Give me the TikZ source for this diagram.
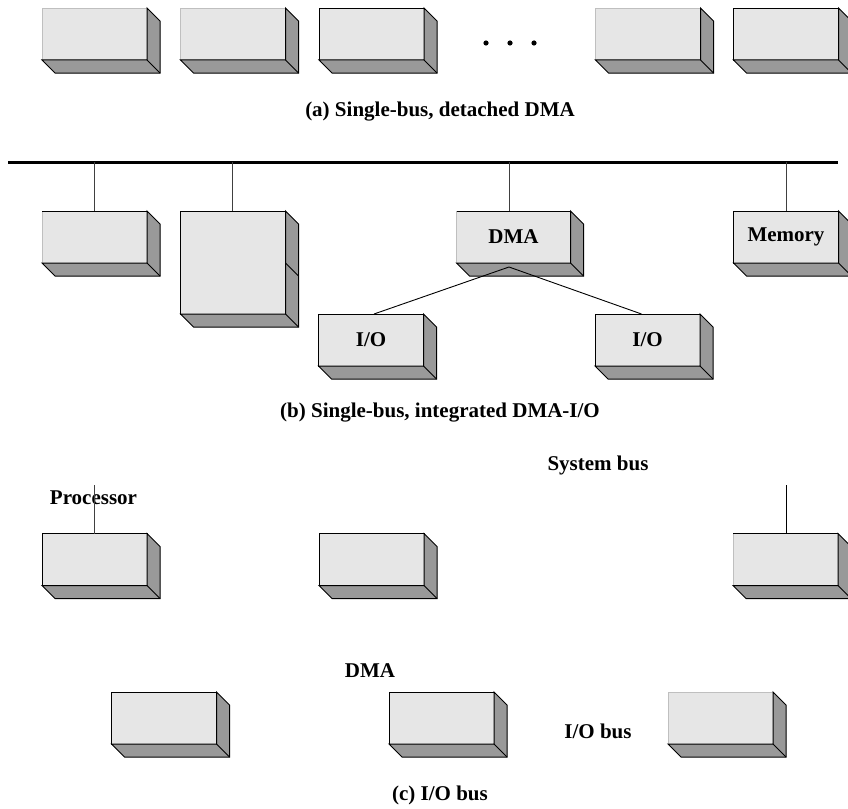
\documentclass[tikz,border=0pt]{standalone}
\usepackage{fontspec}
\setmainfont{Liberation Serif}
\usetikzlibrary{calc}
\definecolor{facegray}{HTML}{E6E6E6}
\definecolor{sidegray}{HTML}{999999}
\definecolor{wiregray}{HTML}{404040}
\newcommand\lbl{\bfseries\fontsize{21}{25}\selectfont}
\newcommand\cubesides[1]{%
  \filldraw[fill=sidegray, draw=black, line width=1pt, line join=miter]
    (#1.north east) -- ++(13,13) -- ($(#1.south east)+(13,13)$)
    -- ($(#1.south west)+(13,13)$) -- (#1.south west) -- (#1.south east) -- cycle;
  \draw[line width=1pt] (#1.south east) -- ++(13,13);
}
\tikzset{
  face/.style={rectangle, fill=facegray, minimum width=105pt, minimum height=52pt,
    inner sep=0pt, outer sep=0pt, font=\lbl},
  faceblack/.style={face, draw=black, line width=0.9pt},
  facesoft/.style={face, draw=black!25, line width=0.5pt},
  topedge/.style={line width=0.9pt, draw=black},
  wire/.style={line width=1pt, draw=wiregray},
  thinwire/.style={line width=0.9pt, draw=black},
  bus/.style={line width=3pt, draw=black},
  caption/.style={font=\lbl, inner sep=0pt},
}
\begin{document}
\begin{tikzpicture}[x=1pt, y=-1pt]
\clip (0,0) rectangle (848,808);
\fill[white] (0,0) rectangle (848,808);

% ---------- (a) ----------
\node[facesoft]  (a1) at (94.5,34) {};
\node[facesoft]  (a2) at (233,34) {};
\node[faceblack] (a3) at (371.5,34) {};
\node[facesoft]  (a4) at (648,34) {};
\node[faceblack] (a5) at (786,34) {};
\foreach \n in {a1,a2,a3,a4,a5} {\cubesides{\n}}
\foreach \x/\n in {486/d1,510/d2,534/d3} {\fill (\x,43) circle (2.6pt);}
\node[caption] (capa) at (440,112) {(a) Single-bus, detached DMA};

% ---------- (b) ----------
\coordinate (busL) at (8,162);
\coordinate (busR) at (838,162);
\draw[bus] (busL) -- (busR);
\node[facesoft]  (b1) at (94.5,237) {};
\node[faceblack, minimum height=103pt] (b2) at (233,262.5) {};
\node[facesoft, minimum width=114pt] (dma) at (513.5,237) {DMA};
\node[faceblack] (mem) at (786,237) {Memory};
\node[faceblack] (iol) at (371,340) {I/O};
\node[faceblack] (ior) at (647.5,340) {I/O};
\foreach \n in {b1,b2,dma,mem,iol,ior} {\cubesides{\n}}
\draw[line width=1pt] ($(b2.north east)+(0,52)$) -- ++(13,13);
\draw[topedge] (b1.north west) -- (b1.north east);
\draw[topedge] (dma.north west) -- (dma.north east);
\draw[wire] (b1.north -| 94,0) -- (94,162);
\draw[wire] (b2.north -| 232,0) -- (232,162);
\draw[wire] (dma.north -| 509,0) -- (509,162);
\draw[wire] (mem.north) -- (786,162);
\coordinate (apex) at (509,267);
\draw[thinwire] ($(iol.north)+(3,0)$) -- (apex) -- ($(ior.north)+(-6,0)$);
\node[caption] (capb) at (440,413) {(b) Single-bus, integrated DMA-I/O};

% ---------- (c) ----------
\node[caption] (sysbus) at (598,465) {System bus};
\node[caption] (proc) at (93.5,498) {Processor};
\node[faceblack] (c1) at (94.5,559.5) {};
\node[faceblack] (c2) at (371.5,559.5) {};
\node[facesoft]  (c3) at (785.5,559.5) {};
\foreach \n in {c1,c2,c3} {\cubesides{\n}}
\draw[topedge] (c3.north west) -- (c3.north east);
\coordinate (pt1) at (94,485);
\coordinate (pt3) at (786,485);
\draw[wire] (c1.north -| pt1) -- (pt1);
\draw[thinwire] (c3.north -| pt3) -- (pt3);

\node[caption] (dmalbl) at (370,671) {DMA};
\node[faceblack] (e1) at (164,718) {};
\node[faceblack] (e2) at (441.5,718) {};
\node[facesoft]  (e3) at (720.5,718) {};
\foreach \n in {e1,e2,e3} {\cubesides{\n}}
\node[caption] (iobus) at (598,731) {I/O bus};
\node[caption] (capc) at (440,795) {(c) I/O bus};
\end{tikzpicture}
\end{document}
